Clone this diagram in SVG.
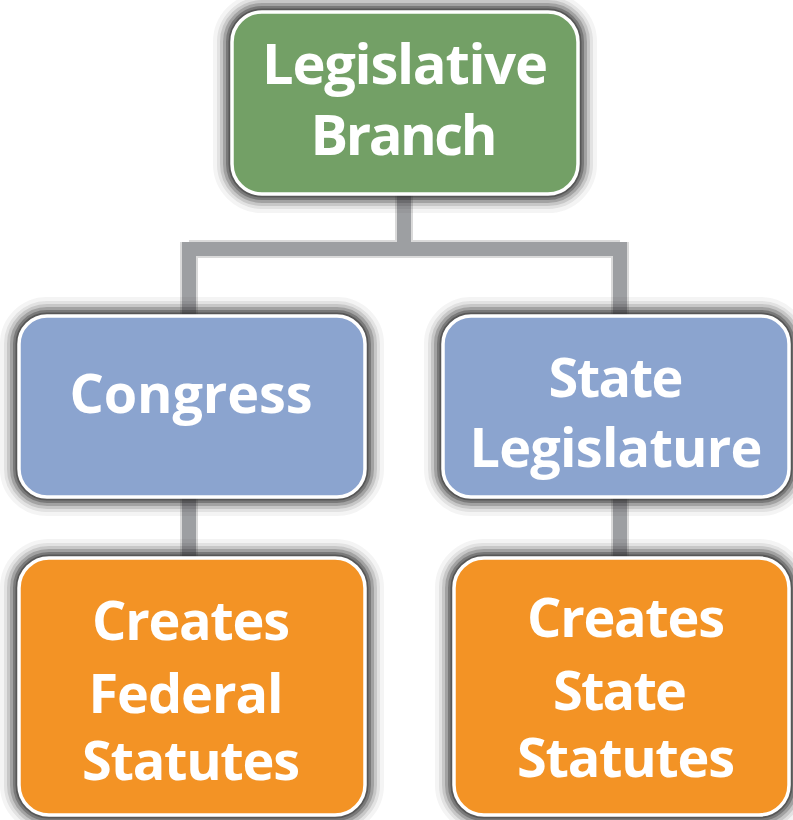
<svg xmlns="http://www.w3.org/2000/svg" width="793" height="820" viewBox="0 0 793 820">
  <style>
    .box { stroke: #ffffff; stroke-width: 3.5; }
    .h { fill: none; stroke: #2f2f2f; }
    .h0 { stroke-width: 38; stroke-opacity: 0.05; }
    .h1 { stroke-width: 30; stroke-opacity: 0.09; }
    .h2 { stroke-width: 24; stroke-opacity: 0.15; }
    .h3 { stroke-width: 18; stroke-opacity: 0.24; }
    .h4 { stroke-width: 12; stroke-opacity: 0.35; }
    .h5 { stroke-width: 7; stroke-opacity: 0.45; }
    .green { fill: #73a066; }
    .blue { fill: #8ba4cf; }
    .orange { fill: #f39325; }
    .conn { fill: none; stroke: #9d9fa2; stroke-width: 14; }
    .connshd { fill: none; stroke: #6a6a6a; stroke-width: 18; stroke-opacity: 0.25; }
    .lbl { font-family: "Open Sans", "Liberation Sans", sans-serif; font-weight: 700; fill: #ffffff; text-anchor: middle; }
  </style>
  <rect width="793" height="820" fill="#ffffff"/>

  <g id="connectors">
    <path class="connshd" d="M404,190 V249 M189,249 H620 M189,242 V320 M620,242 V320 M189,490 V562 M620,490 V562"/>
    <path class="conn" d="M404,190 V249 M189,249 H620 M189,242 V320 M620,242 V320"/>
    <path class="conn" d="M189,490 V562"/>
    <path class="conn" d="M620,490 V562"/>
  </g>

  <g id="node-legislative">
    <g class="halo">
      <rect class="h h0" x="232" y="12" width="346" height="182" rx="30"/>
      <rect class="h h1" x="232" y="12" width="346" height="182" rx="30"/>
      <rect class="h h2" x="232" y="12" width="346" height="182" rx="30"/>
      <rect class="h h3" x="232" y="12" width="346" height="182" rx="30"/>
      <rect class="h h4" x="232" y="12" width="346" height="182" rx="30"/>
      <rect class="h h5" x="232" y="12" width="346" height="182" rx="30"/>
    </g>
    <rect class="box green" x="232" y="12" width="346" height="182" rx="30"/>
    <text class="lbl" x="405" y="84" font-size="56" textLength="286">Legislative</text>
    <text class="lbl" x="404" y="155" font-size="56" textLength="187">Branch</text>
  </g>

  <g id="node-congress">
    <g class="halo">
      <rect class="h h0" x="19" y="316" width="346" height="181" rx="28"/>
      <rect class="h h1" x="19" y="316" width="346" height="181" rx="28"/>
      <rect class="h h2" x="19" y="316" width="346" height="181" rx="28"/>
      <rect class="h h3" x="19" y="316" width="346" height="181" rx="28"/>
      <rect class="h h4" x="19" y="316" width="346" height="181" rx="28"/>
      <rect class="h h5" x="19" y="316" width="346" height="181" rx="28"/>
    </g>
    <rect class="box blue" x="19" y="316" width="346" height="181" rx="28"/>
    <text class="lbl" x="191" y="413" font-size="54" textLength="243">Congress</text>
  </g>

  <g id="node-state">
    <g class="halo">
      <rect class="h h0" x="443" y="316" width="346" height="181" rx="28"/>
      <rect class="h h1" x="443" y="316" width="346" height="181" rx="28"/>
      <rect class="h h2" x="443" y="316" width="346" height="181" rx="28"/>
      <rect class="h h3" x="443" y="316" width="346" height="181" rx="28"/>
      <rect class="h h4" x="443" y="316" width="346" height="181" rx="28"/>
      <rect class="h h5" x="443" y="316" width="346" height="181" rx="28"/>
    </g>
    <rect class="box blue" x="443" y="316" width="346" height="181" rx="28"/>
    <text class="lbl" x="616" y="397" font-size="54" textLength="135">State</text>
    <text class="lbl" x="616" y="467" font-size="54" textLength="293">Legislature</text>
  </g>

  <g id="node-federal-statutes">
    <g class="halo">
      <rect class="h h0" x="19" y="558" width="346" height="257" rx="30"/>
      <rect class="h h1" x="19" y="558" width="346" height="257" rx="30"/>
      <rect class="h h2" x="19" y="558" width="346" height="257" rx="30"/>
      <rect class="h h3" x="19" y="558" width="346" height="257" rx="30"/>
      <rect class="h h4" x="19" y="558" width="346" height="257" rx="30"/>
      <rect class="h h5" x="19" y="558" width="346" height="257" rx="30"/>
    </g>
    <rect class="box orange" x="19" y="558" width="346" height="257" rx="30"/>
    <text class="lbl" x="191" y="640" font-size="54" textLength="198">Creates</text>
    <text class="lbl" x="186" y="713" font-size="54" textLength="195">Federal</text>
    <text class="lbl" x="191" y="780" font-size="54" textLength="218">Statutes</text>
  </g>

  <g id="node-state-statutes">
    <g class="halo">
      <rect class="h h0" x="454" y="558" width="335" height="257" rx="30"/>
      <rect class="h h1" x="454" y="558" width="335" height="257" rx="30"/>
      <rect class="h h2" x="454" y="558" width="335" height="257" rx="30"/>
      <rect class="h h3" x="454" y="558" width="335" height="257" rx="30"/>
      <rect class="h h4" x="454" y="558" width="335" height="257" rx="30"/>
      <rect class="h h5" x="454" y="558" width="335" height="257" rx="30"/>
    </g>
    <rect class="box orange" x="454" y="558" width="335" height="257" rx="30"/>
    <text class="lbl" x="626" y="637" font-size="54" textLength="198">Creates</text>
    <text class="lbl" x="620" y="710" font-size="54" textLength="134">State</text>
    <text class="lbl" x="626" y="777" font-size="54" textLength="218">Statutes</text>
  </g>
</svg>
